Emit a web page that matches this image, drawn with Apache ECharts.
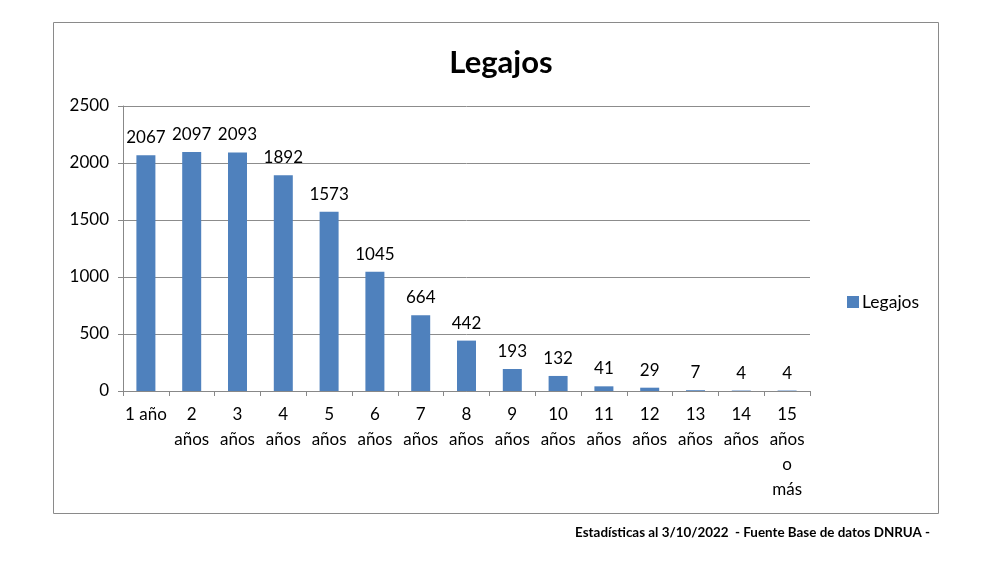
<!DOCTYPE html>
<html>
<head>
<meta charset="utf-8">
<script src="https://cdn.jsdelivr.net/npm/echarts@6/dist/echarts.min.js"></script>
<style>
  html, body { margin: 0; padding: 0; background: #fff; }
  #chart { width: 1000px; height: 563px; }
</style>
</head>
<body>
<div id="chart"></div>
<script>
const categories = ["1 año", "2\naños", "3\naños", "4\naños", "5\naños", "6\naños", "7\naños",
  "8\naños", "9\naños", "10\naños", "11\naños", "12\naños", "13\naños", "14\naños", "15\naños\no\nmás"];
const legajos = [2067, 2097, 2093, 1892, 1573, 1045, 664, 442, 193, 132, 41, 29, 7, 4, 4];
const yTicks = [0, 500, 1000, 1500, 2000, 2500];

const font = "Lato, 'Open Sans', sans-serif";
const chart = echarts.init(document.getElementById("chart"));

chart.setOption({
  animation: false,
  title: {
    text: "Legajos",
    left: 496,
    textAlign: "center",
    top: 42,
    textStyle: { fontFamily: font, fontSize: 31, fontWeight: "bold", color: "#000" }
  },
  legend: {
    data: ["Legajos"],
    left: 842,
    top: 288,
    itemWidth: 12,
    itemHeight: 12,
    icon: "rect",
    textStyle: { fontFamily: font, fontSize: 17.5, color: "#000", padding: [0, 0, 0, -2] }
  },
  grid: { left: 123, right: 190, top: 106, bottom: 172, containLabel: false },
  xAxis: {
    type: "category",
    data: categories,
    axisLine: { lineStyle: { color: "#888", width: 1 } },
    axisTick: { show: true, alignWithLabel: false, length: 5, lineStyle: { color: "#888" } },
    axisLabel: {
      interval: 0,
      fontFamily: font,
      fontSize: 17,
      color: "#000",
      lineHeight: 25,
      margin: 11
    }
  },
  yAxis: {
    type: "value",
    min: yTicks[0],
    max: yTicks[yTicks.length - 1],
    interval: 500,
    axisLine: { show: true, lineStyle: { color: "#888", width: 1 } },
    axisTick: { show: true, length: 5, lineStyle: { color: "#888" } },
    splitLine: { lineStyle: { color: "#8c8c8c", width: 1 } },
    axisLabel: {
      fontFamily: font,
      fontSize: 17,
      color: "#000",
      margin: 14,
      formatter: (v) => String(v)
    }
  },
  series: [{
    name: "Legajos",
    type: "bar",
    data: legajos,
    barWidth: 19,
    itemStyle: { color: "#4f81bd" },
    label: {
      show: true,
      position: "top",
      distance: 9,
      fontFamily: font,
      fontSize: 17,
      color: "#000"
    }
  }],
  graphic: [
    {
      type: "rect",
      shape: { x: 53.5, y: 22.5, width: 885, height: 491 },
      style: { fill: "none", stroke: "#8a8a8a", lineWidth: 1 },
      silent: true
    },
    {
      type: "text",
      right: 70,
      top: 526,
      style: {
        text: "Estadísticas al 3/10/2022  - Fuente Base de datos DNRUA -",
        fontFamily: font,
        fontSize: 13.4,
        fontWeight: "bold",
        fill: "#000"
      }
    }
  ]
});
</script>
</body>
</html>
